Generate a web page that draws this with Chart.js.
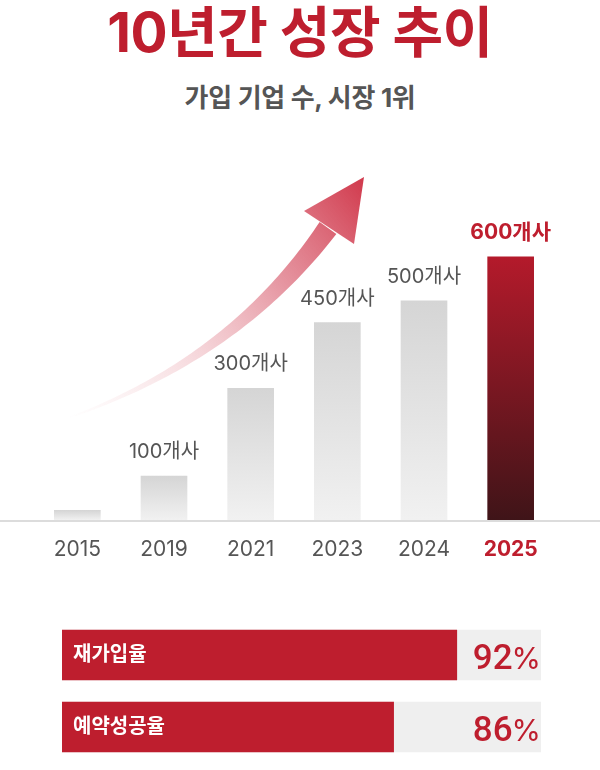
<!DOCTYPE html>
<html lang="ko">
<head>
<meta charset="utf-8">
<script src="https://cdn.jsdelivr.net/npm/chart.js@4.4.1/dist/chart.umd.min.js"></script>
<style>
  html, body { margin:0; padding:0; background:#fff; }
  body { width:600px; height:770px; position:relative; overflow:hidden;
         font-family: "Inter", "Noto Sans CJK KR", sans-serif; }
  #title { position:absolute; left:0; top:2px; width:600px; text-align:center;
           font-size:55px; line-height:60px; font-weight:700; color:#be1e2e; letter-spacing:-0.5px; }
  #subtitle { position:absolute; left:0; top:81px; width:600px; text-align:center;
              font-size:26px; line-height:34px; font-weight:700; color:#555; letter-spacing:-0.3px; }
  #growth { position:absolute; left:0; top:130px; }
  #rates { position:absolute; left:0; top:610px; }
</style>
</head>
<body>
<div id="title">10년간 성장 추이</div>
<div id="subtitle">가입 기업 수, 시장 1위</div>
<canvas id="growth" width="600" height="450"></canvas>
<canvas id="rates" width="600" height="160"></canvas>
<script>
// ---- data ----
const years = ['2015', '2019', '2021', '2023', '2024', '2025'];
const companies = [22, 100, 300, 450, 500, 600];
const companyLabels = [null, '100개사', '300개사', '450개사', '500개사', '600개사'];
const highlightYear = '2025';

const rateNames = ['재가입율', '예약성공율'];
const rateValues = [92, 86];
const rateFull = [100, 100];

// ---- styles ----
const RED = '#be1e2e';
const GRAY_TEXT = '#555555';
const FONT = '"Inter", "Noto Sans CJK KR", sans-serif';
const hi = years.indexOf(highlightYear);

function barFill(ctx) {
  const chart = ctx.chart;
  if (!chart.chartArea || ctx.type !== 'data') return '#e0e0e0';
  const ys = chart.scales.y;
  const top = ys.getPixelForValue(ctx.raw);
  const bottom = ys.getPixelForValue(0);
  const g = chart.ctx.createLinearGradient(0, top, 0, bottom);
  if (ctx.dataIndex === hi) {
    g.addColorStop(0, '#b41a2b');
    g.addColorStop(1, '#3f1418');
  } else {
    g.addColorStop(0, '#d5d5d5');
    g.addColorStop(1, '#f1f1f1');
  }
  return g;
}

// decorative growth arrow + baseline + value labels
const growthDecor = {
  id: 'growthDecor',
  beforeDatasetsDraw(chart) {
    const c = chart.ctx;
    const a = chart.chartArea;
    c.save();
    c.fillStyle = '#dcdcdc';
    c.fillRect(0, a.bottom, chart.width, 2);
    const oy = -130;
    const P0 = {x: 68, y: 418 + oy}, P1 = {x: 234, y: 359 + oy}, P2 = {x: 328, y: 228 + oy};
    const tip = {x: 364, y: 177 + oy}, L = {x: 304, y: 211 + oy}, R = {x: 354, y: 244 + oy};
    const grad = c.createLinearGradient(P0.x, P0.y, tip.x, tip.y);
    grad.addColorStop(0, 'rgba(240,190,196,0)');
    grad.addColorStop(0.3, 'rgba(236,172,180,0.35)');
    grad.addColorStop(0.65, 'rgba(224,126,140,0.8)');
    grad.addColorStop(1, 'rgba(206,46,66,0.95)');
    const pt = s => ({
      x: (1-s)*(1-s)*P0.x + 2*(1-s)*s*P1.x + s*s*P2.x,
      y: (1-s)*(1-s)*P0.y + 2*(1-s)*s*P1.y + s*s*P2.y });
    const tan = s => {
      const dx = 2*(1-s)*(P1.x-P0.x) + 2*s*(P2.x-P1.x);
      const dy = 2*(1-s)*(P1.y-P0.y) + 2*s*(P2.y-P1.y);
      const l = Math.hypot(dx, dy); return {x: dx/l, y: dy/l};
    };
    const N = 60, left = [], right = [];
    for (let i = 0; i <= N; i++) {
      const s = i / N, p = pt(s), t = tan(s);
      const w = (0.8 + 9.5 * Math.pow(s, 1.2));
      left.push({x: p.x + t.y * w, y: p.y - t.x * w});
      right.push({x: p.x - t.y * w, y: p.y + t.x * w});
    }
    c.beginPath();
    c.moveTo(left[0].x, left[0].y);
    left.forEach(p => c.lineTo(p.x, p.y));
    for (let i = right.length - 1; i >= 0; i--) c.lineTo(right[i].x, right[i].y);
    c.closePath();
    c.fillStyle = grad;
    c.fill();
    c.beginPath();
    c.moveTo(tip.x, tip.y); c.lineTo(L.x, L.y); c.lineTo(R.x, R.y); c.closePath();
    c.fill();
    c.restore();
  },
  afterDatasetsDraw(chart) {
    const c = chart.ctx;
    const meta = chart.getDatasetMeta(0);
    c.save();
    c.textAlign = 'center';
    c.textBaseline = 'alphabetic';
    meta.data.forEach((bar, i) => {
      const txt = companyLabels[i];
      if (!txt) return;
      if (i === hi) { c.fillStyle = RED; c.font = '700 21px ' + FONT; }
      else { c.fillStyle = GRAY_TEXT; c.font = '400 20px ' + FONT; }
      c.fillText(txt, bar.x, bar.y - 18);
    });
    c.restore();
  }
};

new Chart(document.getElementById('growth'), {
  type: 'bar',
  data: {
    labels: years,
    datasets: [{ data: companies, backgroundColor: barFill, barThickness: 46, borderWidth: 0 }]
  },
  options: {
    responsive: false,
    animation: false,
    layout: { padding: { top: 83, left: 34, right: 46, bottom: 0 } },
    plugins: { legend: { display: false }, tooltip: { enabled: false } },
    scales: {
      y: { display: false, min: 0, max: 700 },
      x: {
        grid: { display: false, drawTicks: false },
        border: { display: false },
        afterFit(scale) { scale.height = 60; },
        ticks: {
          padding: 17,
          color: (ctx) => ctx.index === hi ? RED : GRAY_TEXT,
          font: (ctx) => ctx.index === hi
            ? { family: FONT, size: 21, weight: '700' }
            : { family: FONT, size: 21, weight: '400' }
        }
      }
    }
  },
  plugins: [growthDecor]
});

const rateDecor = {
  id: 'rateDecor',
  afterDatasetsDraw(chart) {
    const c = chart.ctx;
    const a = chart.chartArea;
    const meta = chart.getDatasetMeta(0);
    c.save();
    meta.data.forEach((bar, i) => {
      c.textBaseline = 'middle';
      c.textAlign = 'left';
      c.fillStyle = '#ffffff';
      c.font = '700 20px ' + FONT;
      c.fillText(rateNames[i], a.left + 11, bar.y);
      c.textBaseline = 'alphabetic';
      c.textAlign = 'right';
      c.fillStyle = RED;
      c.font = '400 30px ' + FONT;
      const xr = a.right;
      c.fillText('%', xr, bar.y + 14);
      const pw = c.measureText('%').width;
      c.font = '500 35px Roboto, ' + FONT;
      c.fillText(String(rateValues[i]), xr - pw + 1, bar.y + 14);
    });
    c.restore();
  }
};

new Chart(document.getElementById('rates'), {
  type: 'bar',
  data: {
    labels: rateNames,
    datasets: [
      { data: rateValues, backgroundColor: RED, barThickness: 50, grouped: false, borderWidth: 0 },
      { data: rateFull, backgroundColor: '#efefef', barThickness: 50, grouped: false, borderWidth: 0 }
    ]
  },
  options: {
    indexAxis: 'y',
    responsive: false,
    animation: false,
    layout: { padding: { top: 9, left: 62, right: 59, bottom: 7 } },
    plugins: { legend: { display: false }, tooltip: { enabled: false } },
    scales: {
      x: { display: false, min: 54.5, max: 100 },
      y: { display: false }
    }
  },
  plugins: [rateDecor]
});
</script>
</body>
</html>
